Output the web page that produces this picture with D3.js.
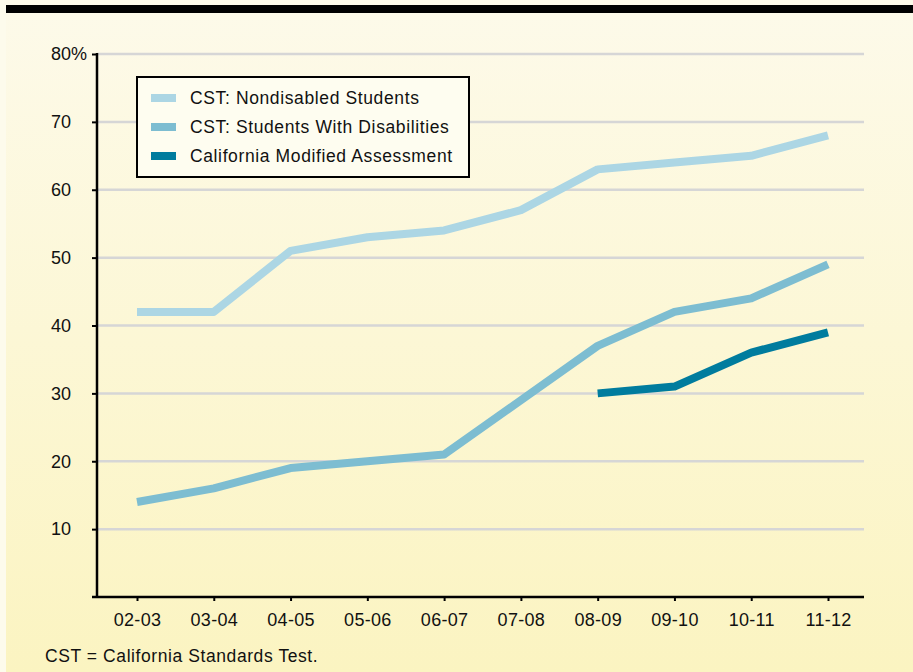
<!DOCTYPE html>
<html>
<head>
<meta charset="utf-8">
<title>CST / CMA proficiency</title>
<script src="https://d3js.org/d3.v7.min.js"></script>
<style>
	body { margin:0; padding:0; overflow:hidden; }
	svg { display:block; font-family:"Liberation Sans", Arial, Helvetica, sans-serif; }
	.grid line { stroke:#d6d6d6; stroke-width:2.5; }
	.axis text { font-size:18px; fill:#111; }
	.axis line, .axis path { stroke:#000; }
	.series { fill:none; stroke-width:8; stroke-linejoin:round; stroke-linecap:butt; }
</style>
</head>
<body>
<script>
// school years on the x axis
var years = ["02-03","03-04","04-05","05-06","06-07","07-08","08-09","09-10","10-11","11-12"];
// percent values
var nondisabled = [42, 42, 51, 53, 54, 57, 63, 64, 65, 68];
var withDisabilities = [14, 16, 19, 20, 21, 29, 37, 42, 44, 49];
var cmaYears = ["08-09","09-10","10-11","11-12"];
var cma = [30, 31, 36, 39];
var yTicks = [10, 20, 30, 40, 50, 60, 70, 80];
var seriesNames = ["CST: Nondisabled Students", "CST: Students With Disabilities", "California Modified Assessment"];
var seriesColors = ["#acd6e4", "#7dbdd1", "#007c9e"];

var W = 913, H = 672;
var svg = d3.select("body").append("svg").attr("width", W).attr("height", H);

// background fades from pale cream to yellow
var defs = svg.append("defs");
var grad = defs.append("linearGradient").attr("id", "bg").attr("x1", 0).attr("y1", 0).attr("x2", 0).attr("y2", 1);
grad.append("stop").attr("offset", "0%").attr("stop-color", "#fdfaea");
grad.append("stop").attr("offset", "100%").attr("stop-color", "#fbf4c1");
svg.append("rect").attr("width", W).attr("height", H).attr("fill", "url(#bg)");
// thin paler strip on the far left
svg.append("rect").attr("width", 6).attr("height", H).attr("fill", "#fdfbec");

// black rule across the top
svg.append("rect").attr("x", 6).attr("y", 5).attr("width", W - 6).attr("height", 8).attr("fill", "#000");

var plotLeft = 97, plotRight = 864, plotTop = 54, plotBottom = 597;

var x = d3.scalePoint().domain(years).range([137, 828]);
var y = d3.scaleLinear().domain([0, 80]).range([plotBottom, plotTop]);

// grid lines
svg.append("g").attr("class", "grid")
	.selectAll("line").data(yTicks).enter().append("line")
	.attr("x1", plotLeft).attr("x2", plotRight)
	.attr("y1", function(d) { return y(d); })
	.attr("y2", function(d) { return y(d); });

// y axis: ticks from d3, labels placed so the "%" hangs past the numbers
var yAxis = d3.axisLeft(y).tickValues(yTicks).tickSize(5).tickFormat("");
var gy = svg.append("g").attr("class", "axis").attr("transform", "translate(" + plotLeft + ",0)").call(yAxis);
gy.select(".domain").remove();
gy.selectAll(".tick line").attr("stroke-width", 2);
var ylab = svg.append("g").attr("class", "axis");
ylab.selectAll(".ylab").data(yTicks).enter().append("text")
	.attr("class", "ylab")
	.attr("x", 71).attr("y", function(d) { return y(d); })
	.attr("dy", "0.35em").attr("text-anchor", "end").attr("font-size", "17px")
	.text(function(d) { return d; });
ylab.append("text").attr("x", 71).attr("y", y(80)).attr("dy", "0.35em").attr("font-size", "17px").text("%");

// x axis
var xAxis = d3.axisBottom(x).tickSize(4).tickPadding(12).tickSizeOuter(0);
var gx = svg.append("g").attr("class", "axis").attr("transform", "translate(0," + plotBottom + ")").call(xAxis);
gx.select(".domain").remove();
gx.selectAll(".tick line").attr("stroke-width", 2);
gx.selectAll(".tick text").attr("font-size", "17.5px").attr("letter-spacing", "0.3px");

// axis lines
svg.append("line").attr("x1", plotLeft).attr("x2", plotLeft).attr("y1", y(80) - 1).attr("y2", plotBottom + 1)
	.attr("stroke", "#000").attr("stroke-width", 2.5);
svg.append("line").attr("x1", plotLeft - 5).attr("x2", plotRight).attr("y1", plotBottom).attr("y2", plotBottom)
	.attr("stroke", "#000").attr("stroke-width", 2.5);

// lines
var line = d3.line()
	.x(function(d) { return x(d.year); })
	.y(function(d) { return y(d.value); });

function pairs(ys, vs) {
	return ys.map(function(yr, i) { return {year: yr, value: vs[i]}; });
}

var seriesData = [pairs(years, nondisabled), pairs(years, withDisabilities), pairs(cmaYears, cma)];

svg.selectAll(".series").data(seriesData).enter().append("path")
	.attr("class", "series")
	.attr("stroke", function(d, i) { return seriesColors[i]; })
	.attr("d", line);

// legend
var legend = svg.append("g").attr("transform", "translate(137,77)");
legend.append("rect").attr("width", 332).attr("height", 100)
	.attr("fill", "#fefdf0").attr("stroke", "#000").attr("stroke-width", 2);
var items = legend.selectAll(".item").data(seriesNames).enter().append("g")
	.attr("transform", function(d, i) { return "translate(0," + (21 + i * 29) + ")"; });
items.append("rect").attr("x", 14).attr("y", -4).attr("width", 25).attr("height", 8)
	.attr("fill", function(d, i) { return seriesColors[i]; });
items.append("text").attr("x", 53).attr("y", 6).attr("font-size", "17.5px").attr("letter-spacing", "0.62px").attr("fill", "#111")
	.text(function(d) { return d; });

// footnote
svg.append("text").attr("x", 45).attr("y", 662).attr("font-size", "17.5px").attr("letter-spacing", "0.58px").attr("fill", "#111")
	.text("CST = California Standards Test.");
</script>
</body>
</html>
